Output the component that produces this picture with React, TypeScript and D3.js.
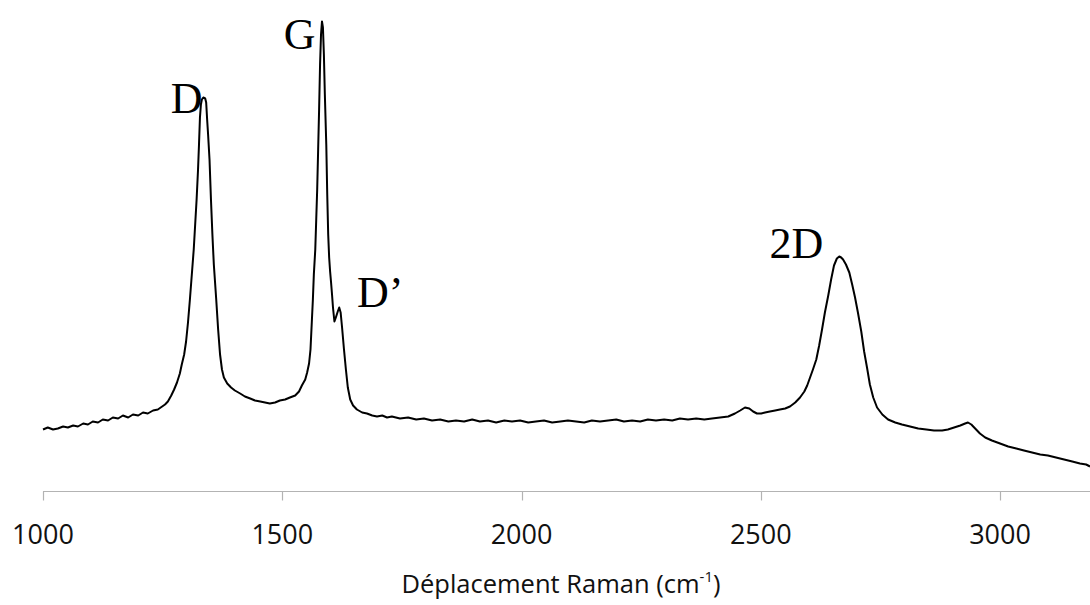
import React from "react";
import * as d3 from "d3";

const wavenumbers = [
  1000, 1010, 1021, 1031, 1042, 1052, 1063, 1073, 1084, 1094, 1104, 1115, 1125, 1136, 1146, 1157, 1167, 1178, 1188, 1199,
  1209, 1219, 1230, 1240, 1249, 1255, 1261, 1268, 1274, 1280, 1286, 1290, 1295, 1299, 1303, 1307, 1311, 1315, 1318, 1321,
  1324, 1326, 1328, 1330, 1332, 1335, 1339, 1341, 1343, 1345, 1348, 1351, 1354, 1357, 1362, 1366, 1370, 1374, 1378, 1385,
  1393, 1401, 1412, 1422, 1433, 1443, 1454, 1464, 1474, 1485, 1495, 1506, 1516, 1527, 1535, 1541, 1548, 1552, 1556, 1559,
  1562, 1564, 1566, 1569, 1571, 1573, 1575, 1577, 1579, 1581, 1583, 1585, 1587, 1589, 1592, 1594, 1596, 1598, 1600, 1602,
  1604, 1606, 1609, 1612, 1616, 1619, 1622, 1625, 1629, 1633, 1637, 1642, 1648, 1656, 1667, 1677, 1688, 1698, 1709, 1719,
  1729, 1746, 1763, 1780, 1796, 1813, 1830, 1847, 1863, 1880, 1897, 1913, 1930, 1947, 1964, 1980, 1997, 2014, 2030, 2047,
  2064, 2081, 2097, 2114, 2131, 2147, 2164, 2181, 2198, 2214, 2231, 2248, 2264, 2281, 2298, 2315, 2331, 2348, 2365, 2382,
  2398, 2415, 2432, 2446, 2457, 2467, 2476, 2484, 2492, 2501, 2509, 2519, 2530, 2540, 2551, 2561, 2572, 2582, 2591, 2597,
  2603, 2609, 2616, 2622, 2628, 2634, 2641, 2647, 2653, 2659, 2664, 2668, 2672, 2678, 2685, 2691, 2697, 2703, 2710, 2716,
  2722, 2728, 2735, 2743, 2754, 2766, 2781, 2795, 2812, 2829, 2846, 2862, 2879, 2891, 2904, 2917, 2927, 2933, 2940, 2948,
  2958, 2969, 2983, 3000, 3017, 3034, 3050, 3067, 3084, 3100, 3117, 3134, 3151, 3167, 3180, 3188,
];

const intensity = [
  62, 64, 62, 63, 65, 64, 66, 65, 68, 67, 70, 69, 72, 71, 74, 73, 76, 74, 77, 76,
  79, 78, 81, 82, 85, 87, 90, 96, 102, 109, 118, 127, 137, 150, 169, 192, 217, 242, 267, 292,
  322, 347, 374, 387, 392, 394, 393, 389, 372, 357, 332, 292, 257, 227, 192, 162, 137, 122, 114, 108,
  104, 101, 98, 95, 93, 91, 90, 89, 88, 89, 91, 92, 94, 96, 100, 106, 112, 119, 128, 142,
  172, 192, 217, 242, 272, 302, 342, 382, 427, 457, 470, 464, 437, 397, 347, 297, 257, 234, 220, 209,
  197, 184, 170, 174, 180, 184, 179, 164, 142, 122, 104, 92, 86, 82, 79, 78, 76, 75, 76, 74,
  75, 73, 74, 72, 73, 71, 72, 70, 71, 70, 72, 70, 71, 69, 71, 70, 71, 69, 70, 71,
  69, 70, 71, 70, 69, 71, 70, 71, 72, 70, 71, 70, 72, 71, 72, 71, 73, 72, 73, 72,
  73, 74, 75, 78, 81, 84, 83, 80, 78, 78, 79, 80, 81, 82, 83, 85, 89, 94, 100, 106,
  114, 122, 132, 146, 162, 179, 196, 212, 226, 233, 235, 234, 232, 227, 219, 207, 194, 179, 160, 140,
  124, 107, 94, 84, 77, 72, 69, 67, 65, 63, 62, 61, 61, 62, 64, 66, 68, 69, 67, 63,
  58, 54, 51, 48, 45, 43, 41, 39, 37, 36, 34, 32, 30, 28, 27, 25,
];

const tickValues = [1000, 1500, 2000, 2500, 3000];

const peakLabels = [
  { text: "D", w: 1267, i: 379 },
  { text: "G", w: 1503, i: 443 },
  { text: "D\u2019", w: 1656, i: 185 },
  { text: "2D", w: 2518, i: 234 },
];

const W = 1090;
const H = 605;

export default function App() {
  const x = d3.scaleLinear().domain([1000, 3188]).range([43, 1090]);
  const y = d3.scaleLinear().domain([0, 492]).range([491.5, -0.5]);
  const axisY = 491.5;

  const pts: [number, number][] = wavenumbers.map((w, k) => [w, intensity[k]]);
  const line = d3
    .line<[number, number]>()
    .x((d) => x(d[0]))
    .y((d) => y(d[1]))
    .curve(d3.curveLinear);

  return (
    <svg
      width={W}
      height={H}
      style={{ position: "absolute", left: 0, top: 0, background: "#fff" }}
    >
      <rect x={0} y={0} width={W} height={H} fill="#fff" />
      {/* x axis */}
      <line x1={x(1000)} x2={W} y1={axisY} y2={axisY} stroke="#b3b3b3" strokeWidth={1.2} />
      {tickValues.map((t) => (
        <g key={t}>
          <line
            x1={Math.round(x(t)) + 0.5}
            x2={Math.round(x(t)) + 0.5}
            y1={axisY}
            y2={axisY + 9}
            stroke="#b3b3b3"
            strokeWidth={1.2}
          />
          <text
            x={x(t)}
            y={544}
            textAnchor="middle"
            fontFamily="'Open Sans', sans-serif"
            fontSize={27}
            fill="#111"
          >
            {t}
          </text>
        </g>
      ))}
      <text
        x={561}
        y={593}
        textAnchor="middle"
        fontFamily="'Open Sans', sans-serif"
        fontSize={25.5}
        fill="#111"
      >
        Déplacement Raman (cm
        <tspan fontSize={15} dy={-11}>-1</tspan>
        <tspan dy={11}>)</tspan>
      </text>
      {/* spectrum */}
      <path d={line(pts) || ""} fill="none" stroke="#000" strokeWidth={2} strokeLinejoin="round" />
      {/* peak labels */}
      {peakLabels.map((p) => (
        <text
          key={p.text}
          x={x(p.w)}
          y={y(p.i)}
          fontFamily="'Liberation Serif', serif"
          fontSize={44}
          fill="#000"
        >
          {p.text}
        </text>
      ))}
    </svg>
  );
}
